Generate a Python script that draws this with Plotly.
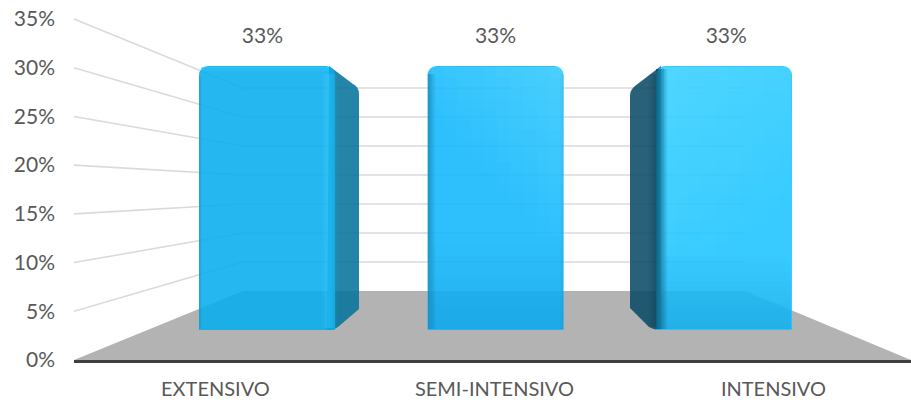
import plotly.graph_objects as go

categories = ["EXTENSIVO", "SEMI-INTENSIVO", "INTENSIVO"]
values = [33, 33, 33]
y_ticks = [0, 5, 10, 15, 20, 25, 30, 35]
y_labels = ["0%", "5%", "10%", "15%", "20%", "25%", "30%", "35%"]
bar_colors = ["#06ADEE", "#11B7FD", "#1CC4FF"]
value_labels = ["33%", "33%", "33%"]

W, H = 911, 400
L, R, T, B = 74, 911, 19, 360      # plot rectangle in pixels
FRONT_BOTTOM, FRONT_PX = 330, 8.0  # front plane of the 3-D box: 0 value and px per unit
CX0, CX_STEP = 267, 228.5          # front plane: centre of first bar, bar spacing
BAR_W = 136
BACK_L, BACK_R, BACK_FLOOR, BACK_STEP = 243, 745, 291, 29 / 5
WALL_STEP = (B - T) / 35


def X(p):
    return (p - L) / (R - L)


def Y(p):
    return (B - p) / (B - T)


def path(points):
    out = []
    for item in points:
        if item[0] == "Q":
            out.append(f"Q{X(item[1]):.5f},{Y(item[2]):.5f} {X(item[3]):.5f},{Y(item[4]):.5f}")
        else:
            out.append(f"{'M' if not out else 'L'}{X(item[0]):.5f},{Y(item[1]):.5f}")
    return " ".join(out) + " Z"


shapes = []


def poly(points, color, opacity=1.0, layer="below"):
    shapes.append(dict(type="path", xref="paper", yref="paper", path=path(points), fillcolor=color,
                       opacity=opacity, line=dict(width=0), layer=layer))


def seg(x0, y0, x1, y1, color="#DADADA", width=1.6):
    shapes.append(dict(type="line", xref="paper", yref="paper", x0=X(x0), y0=Y(y0), x1=X(x1), y1=Y(y1),
                       line=dict(color=color, width=width), layer="below"))


def rect(x0, y0, x1, y1, color, opacity):
    if opacity <= 0.004:
        return
    shapes.append(dict(type="rect", xref="paper", yref="paper", x0=X(x0), y0=Y(y0), x1=X(x1), y1=Y(y1),
                       fillcolor=color, opacity=opacity, line=dict(width=0), layer="above"))


def grad(x0, y0, x1, y1, color, a0, a1, vertical=True, n=14):
    for k in range(n):
        t = (k + 0.5) / n
        a = a0 + (a1 - a0) * t
        if vertical:
            rect(x0, round(y0 + (y1 - y0) * k / n), x1, round(y0 + (y1 - y0) * (k + 1) / n), color, a)
        else:
            rect(round(x0 + (x1 - x0) * k / n), y0, round(x0 + (x1 - x0) * (k + 1) / n), y1, color, a)


def cells(x0, y0, x1, y1, color, fn, nx=10, ny=16):
    for a in range(nx):
        for b in range(ny):
            u, v = (a + 0.5) / nx, (b + 0.5) / ny
            rect(round(x0 + (x1 - x0) * a / nx), round(y0 + (y1 - y0) * b / ny),
                 round(x0 + (x1 - x0) * (a + 1) / nx), round(y0 + (y1 - y0) * (b + 1) / ny), color, fn(u, v))


# floor and walls
poly([(L, B), (BACK_L, BACK_FLOOR), (BACK_R, BACK_FLOOR), (R, B)], "#B3B3B3")
for v in y_ticks[1:]:
    wall_y = B - v * WALL_STEP
    back_y = BACK_FLOOR - v * BACK_STEP
    seg(L, wall_y, BACK_L, back_y)
    seg(BACK_L, back_y, BACK_R, back_y)

# bar side faces and shading, derived from the values
for i, v in enumerate(values):
    cx = CX0 + CX_STEP * i
    x0, x1 = round(cx - BAR_W / 2), round(cx + BAR_W / 2)
    top = FRONT_BOTTOM - FRONT_PX * v
    bot = FRONT_BOTTOM
    if i == 0:
        poly([(x1 - 6, top), (x1 + 18, top + 18), ("Q", x1 + 24, top + 21, x1 + 24, top + 28),
              (x1 + 24, bot - 21), (x1 + 3, bot - 3), ("Q", x1 - 1, bot, x1 - 8, bot)], "#07749C", 0.88)
        grad(x1 - 14, top + 8, x1 - 6, bot - 2, "#6FE4FF", 0.0, 0.22, vertical=False, n=8)
        grad(x1 - 6, top + 8, x1 + 3, bot - 2, "#6FE4FF", 0.22, 0.0, vertical=False, n=9)
        grad(x0 + 2, top + 1, x1 - 6, top + 7, "#2CCBFF", 0.5, 0.0, n=5)
        grad(x0, top + 10, x0 + 3, bot - 1, "#0A6E9A", 0.3, 0.0, vertical=False, n=3)
    elif i == 1:
        cells(x0 + 3, top + 1, x1 - 1, top + 170, "#8AF4FF",
              lambda u, v: 0.3 * max(0.0, (u * 0.9 + (1 - v) * 1.1 - 0.75) / 1.25))
        grad(x0 + 3, top + 170, x1 - 1, bot - 1, "#0A86C8", 0.0, 0.28, n=14)
        grad(x0, top + 8, x0 + 8, bot - 1, "#0A5F8A", 0.45, 0.0, vertical=False, n=8)
        grad(x1 - 4, top + 8, x1, bot - 1, "#0A6E9A", 0.0, 0.15, vertical=False, n=4)
    else:
        poly([(x0 + 5, top), (x0 - 21, top + 20), ("Q", x0 - 26, top + 24, x0 - 26, top + 30),
              (x0 - 26, bot - 22), (x0 - 7, bot - 3), ("Q", x0 - 2, bot, x0 + 5, bot)], "#0A4B67", 0.88)
        cells(x0 + 8, top + 1, x1 - 1, top + 190, "#8AF4FF",
              lambda u, v: 0.28 * max(0.0, ((1 - u) * 0.6 + (1 - v) * 1.2 - 0.3) / 1.5))
        grad(x0 + 3, top + 190, x1 - 1, bot - 1, "#0A86C8", 0.0, 0.3, n=14)
        grad(x0 - 8, top + 8, x0, bot - 3, "#08384E", 0.0, 0.35, vertical=False, n=8)
        grad(x0, top + 3, x0 + 12, bot - 1, "#0A4B67", 0.8, 0.0, vertical=False, n=12)

fig = go.Figure()

# carrier for the visible value axis
fig.add_trace(go.Scatter(x=[0, 1, 2], y=values, mode="markers", marker=dict(opacity=0),
                         hoverinfo="skip", showlegend=False, xaxis="x", yaxis="y"))
fig.add_trace(go.Bar(x=[0, 1, 2], y=values, marker=dict(color=bar_colors, opacity=0.88, line=dict(width=0)),
                     width=BAR_W / CX_STEP, showlegend=False, xaxis="x2", yaxis="y2"))
fig.add_trace(go.Scatter(x=[-0.02, 1.0, 2.01], y=[v + 2.2 for v in values], mode="text", text=value_labels,
                         textposition="top center", textfont=dict(family="Lato", size=21, color="#595959"),
                         showlegend=False, xaxis="x2", yaxis="y2"))

fig.update_layout(
    width=W, height=H,
    margin=dict(l=L, r=W - R, t=T, b=H - B, pad=0, autoexpand=False),
    paper_bgcolor="white", plot_bgcolor="white",
    barcornerradius=9,
    shapes=shapes,
    font=dict(family="Lato", color="#595959"),
    xaxis=dict(range=[-0.507, 2.493], tickvals=[0, 1, 2], ticktext=categories, showgrid=False, zeroline=False,
               showline=True, linecolor="#404040", linewidth=3, ticks="", ticklabelstandoff=9,
               tickfont=dict(family="Lato", size=20, color="#595959"), fixedrange=True),
    yaxis=dict(range=[0, 35], tickvals=y_ticks, ticktext=y_labels, showgrid=False, zeroline=False, showline=False,
               ticks="", ticklabelstandoff=18, tickfont=dict(family="Lato", size=21, color="#595959"),
               fixedrange=True),
    xaxis2=dict(overlaying="x", visible=False,
                range=[(L - CX0) / CX_STEP, (R - CX0) / CX_STEP], fixedrange=True),
    yaxis2=dict(overlaying="y", visible=False,
                range=[(FRONT_BOTTOM - B) / FRONT_PX, (FRONT_BOTTOM - T) / FRONT_PX], fixedrange=True),
)

fig.write_html("out.html", config={"displayModeBar": False},
               post_script="document.body.style.margin='0';document.documentElement.style.overflow='hidden';")
